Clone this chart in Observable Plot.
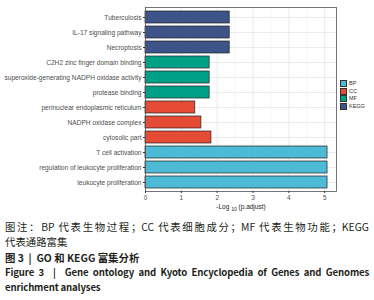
<!DOCTYPE html>
<html><head><meta charset="utf-8">
<script src="https://cdn.jsdelivr.net/npm/d3@7"></script>
<script src="https://cdn.jsdelivr.net/npm/@observablehq/plot@0.6"></script>
<style>
body{margin:0;background:#fff;font-family:"Liberation Sans",Arial,sans-serif;}
#wrap{position:relative;width:374px;height:300px;overflow:hidden;}
#legend{position:absolute;left:340px;top:80px;font-size:5.5px;color:#333;line-height:7.6px;}
#legend .it{display:flex;align-items:center;height:7.6px;}
#legend .sw{width:5px;height:5px;margin-right:2px;border:0.5px solid #333;}
#xtitle{position:absolute;left:0;width:374px;top:203px;text-align:center;font-size:6.5px;color:#222;padding-left:108px;box-sizing:border-box;}
#xtitle sub{font-size:5px;}
.cl{position:absolute;left:5px;width:364px;height:15px;line-height:15px;white-space:nowrap;font-family:"Noto Sans CJK SC",sans-serif;font-size:10.4px;color:#231f20;}
.j{text-align:justify;text-align-last:justify;}
.b{font-weight:bold;}
.en{font-size:9.6px;letter-spacing:-0.15px;}
</style></head>
<body><div id="wrap"><div id="chart"></div>
<div id="legend"></div>
<div id="xtitle">-Log <sub>10</sub> (p.adjust)</div>
<div class="cl j" style="top:219px">图注：BP 代表生物过程；CC 代表细胞成分；MF 代表生物功能；KEGG</div>
<div class="cl" style="top:234px">代表通路富集</div>
<div class="cl b" style="top:250px">图 3 &nbsp;|&nbsp; GO 和 KEGG 富集分析</div>
<div class="cl b en j" style="top:265px">Figure 3 &nbsp;|&nbsp; Gene ontology and Kyoto Encyclopedia of Genes and Genomes</div>
<div class="cl b en" style="top:280px">enrichment analyses</div>
</div>
<script>
const terms = ["Tuberculosis","IL-17 signaling pathway","Necroptosis","C2H2 zinc finger domain binding","superoxide-generating NADPH oxidase activity","protease binding","perinuclear endoplasmic reticulum","NADPH oxidase complex","cytosolic part","T cell activation","regulation of leukocyte proliferation","leukocyte proliferation"];
const values = [2.35,2.35,2.35,1.79,1.79,1.79,1.39,1.56,1.84,5.08,5.08,5.08];
const groups = ["KEGG","KEGG","KEGG","MF","MF","MF","CC","CC","CC","BP","BP","BP"];
const groupNames = ["BP","CC","MF","KEGG"];
const groupColors = ["#4DBBD5","#E64B35","#00A087","#3C5488"];
const xTicks = [0,1,2,3,4,5];
const xMinor = [0.5,1.5,2.5,3.5,4.5];

const data = terms.map((t,i)=>({term:t,value:values[i],group:groups[i]}));
const plot = Plot.plot({
  width:374,height:212,
  marginLeft:145,marginRight:38,marginTop:7,marginBottom:21,
  style:{fontFamily:"Liberation Sans, Arial, sans-serif",fontSize:"6.6px",color:"#4d4d4d",background:"#fff"},
  x:{domain:[0,5.33],ticks:xTicks,label:null},
  y:{domain:terms,label:null,padding:0.2},
  color:{domain:groupNames,range:groupColors},
  marks:[
    Plot.gridX(xMinor,{stroke:"#f2f2f2",strokeOpacity:1,strokeWidth:0.6}),
    Plot.gridX(xTicks,{stroke:"#e6e6e6",strokeOpacity:1,strokeWidth:0.8}),
    Plot.gridY({stroke:"#e6e6e6",strokeOpacity:1,strokeWidth:0.8}),
    Plot.barX(data,{x:"value",y:"term",fill:"group",stroke:"#222",strokeWidth:0.7}),
    Plot.frame({stroke:"#555",strokeWidth:0.8}),
    Plot.axisX(xTicks,{tickSize:2,tickPadding:1.5,fontSize:6.4,stroke:"#333"}),
    Plot.axisY({tickSize:2,tickPadding:2,fontSize:6.6,stroke:"#333"})
  ]
});
document.getElementById("chart").appendChild(plot);
const lg = document.getElementById("legend");
groupNames.forEach((g,i)=>{
  const it=document.createElement("div");it.className="it";
  it.innerHTML=`<span class="sw" style="background:${groupColors[i]}"></span>${g}`;
  lg.appendChild(it);
});
</script></body></html>
